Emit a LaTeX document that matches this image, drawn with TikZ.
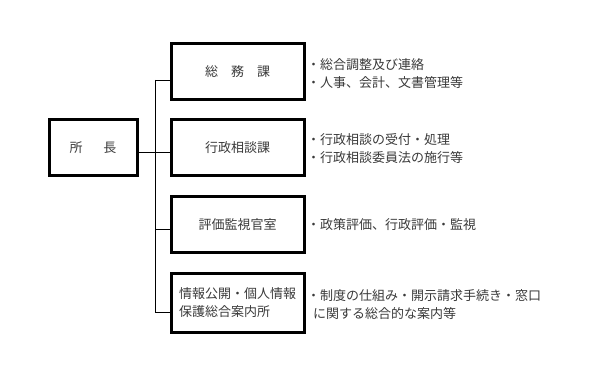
\documentclass[tikz,border=0pt]{standalone}
\usepackage{fontspec}
\setmainfont{Noto Sans CJK JP}
\usepackage{tikz}
\usetikzlibrary{positioning,calc}
\usepackage{xcolor}
\definecolor{txt}{HTML}{3A3A3A}

\begin{document}
\begin{tikzpicture}[x=1pt,y=-1pt,
  unit/.style={draw=black,line width=3pt,minimum width=133pt,minimum height=56pt,
    inner sep=0pt,text=txt,font=\fontsize{13}{18}\selectfont,align=left},
  duty/.style={anchor=west,inner sep=0pt,text=txt,font=\fontsize{13}{18}\selectfont,align=left},
  link/.style={draw=black,line width=0.8pt}]
\fill[white] (0,0) rectangle (600,374);
\useasboundingbox (0,0) rectangle (600,374);
\node[unit,minimum width=88pt] (head) at (93,148) {所\hspace{21pt}長};
\node[unit] (soumu) at (237.5,72) {総　務　課};
\node[unit] (soudan) at (237.5,148) {行政相談課};
\node[unit] (hyouka) at (237.5,225) {評価監視官室};
\node[unit,minimum height=58pt] (annai) at (237.5,303) {情報公開・個人情報\\保護総合案内所};
\coordinate (top) at (155,80);
\coordinate (bot) at (155,312);
\draw[link] (top) -- (bot);
\draw[link] ([yshift=-4pt]head.east) -- ([yshift=-4pt]head.east -| top);
\draw[link] (top) -- ([yshift=-8pt]soumu.west);
\draw[link] ([yshift=-4pt]soudan.west -| top) -- ([yshift=-4pt]soudan.west);
\draw[link] ([yshift=-4pt]hyouka.west -| top) -- ([yshift=-4pt]hyouka.west);
\draw[link] (bot) -- ([yshift=-9pt]annai.west);
\node[duty] (d1) at (307,74) {・総合調整及び連絡\\・人事、会計、文書管理等};
\node[duty] (d2) at (307,149) {・行政相談の受付・処理\\・行政相談委員法の施行等};
\node[duty] (d3) at (307,225) {・政策評価、行政評価・監視};
\node[duty] (d4) at (307,304.5) {・制度の仕組み・開示請求手続き・窓口\\\hspace{6pt}に関する総合的な案内等};
\end{tikzpicture}
\end{document}
